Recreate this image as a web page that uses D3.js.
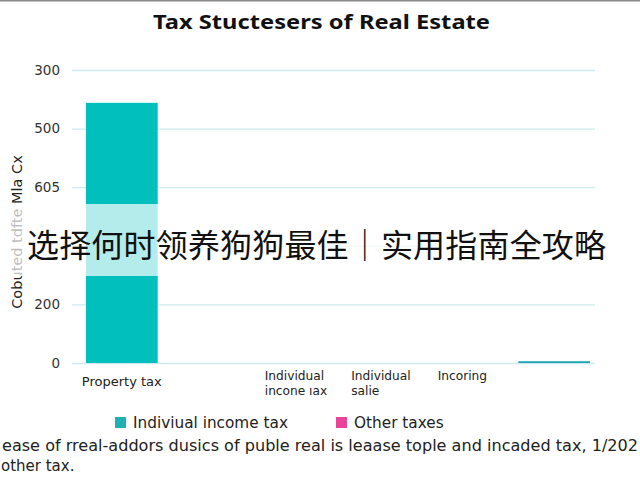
<!DOCTYPE html>
<html><head><meta charset="utf-8">
<script src="https://cdn.jsdelivr.net/npm/d3@7"></script>
<style>html,body{margin:0;padding:0;background:#fff;overflow:hidden}</style>
</head><body>
<svg id="c" width="640" height="480"></svg>
<script>
const categories = ["Property tax", "", "Individual\nincone ıax", "Individual\nsalie", "Incoring", ""];
const incomeTax = [444, 0, 0, 0, 0, 3];
const otherTaxes = [0, 0, 0, 0, 0, 0];
const tickValues = [0, 100, 200, 300, 400, 500];
const tickLabels = ["0", "200", "", "605", "500", "300"];
const seriesNames = ["Indiviual income tax", "Other taxes"];
const colors = ["#00bfbc", "#e8449a"];
const legendColors = ["#1fb0b4", "#e8449a"];

const svg = d3.select("#c");
const W = 640, H = 480;
svg.append("rect").attr("width", W).attr("height", H).attr("fill", "#fff");
svg.append("rect").attr("x", 0).attr("y", 0).attr("width", W).attr("height", 1.5).attr("fill", "#8a8a8a");

svg.append("text").attr("x", 153).attr("y", 29)
  .attr("font-family", "Noto Sans").attr("font-weight", "bold").attr("font-size", 19.5)
  .attr("fill", "#111").attr("textLength", 337).attr("lengthAdjust", "spacingAndGlyphs")
  .text("Tax Stuctesers of Real Estate");

const x = d3.scaleBand().domain(d3.range(categories.length)).range([79, 597]).paddingInner(0.17).paddingOuter(0.08);
const y = d3.scaleLinear().domain([0, 500]).range([363, 70]);

const yAxis = d3.axisLeft(y).tickValues(tickValues).tickFormat((d, i) => tickLabels[i]).tickSize(-(595 - 72)).tickPadding(12);
const gy = svg.append("g").attr("transform", "translate(72,0)").call(yAxis);
gy.select(".domain").remove();
gy.selectAll(".tick line").attr("stroke", "#cfeaee").attr("stroke-width", 1.3);
gy.selectAll(".tick text").attr("font-family", "DejaVu Sans").attr("font-size", 13.5).attr("fill", "#333");

svg.append("g").selectAll("rect").data(incomeTax).join("rect")
  .attr("x", (d, i) => x(i)).attr("width", x.bandwidth())
  .attr("y", d => y(d)).attr("height", d => y(0) - y(d))
  .attr("fill", (d, i) => i === categories.length - 1 ? "#1aa6b0" : colors[0]);

const xl = svg.append("g");
categories.forEach((c, i) => {
  if (!c) return;
  const lines = c.split("\n");
  const cx = x(i) + x.bandwidth() / 2;
  const y0 = (i === 0) ? 386 : 380;
  lines.forEach((l, k) => {
    xl.append("text").attr("text-anchor", i === 0 ? "middle" : "start")
      .attr("font-family", "DejaVu Sans").attr("font-size", i === 0 ? 13 : 12.2).attr("fill", "#222")
      .attr("x", i === 0 ? cx : cx - 30)
      .attr("y", y0 + k * 14.5).text(l);
  });
});

svg.append("text").attr("transform", "translate(22,232) rotate(-90)").attr("text-anchor", "middle")
  .attr("font-family", "DejaVu Sans").attr("font-size", 14.5).attr("fill", "#222")
  .text("Cobuted tdfte Mla Cx");

const lg = svg.append("g");
const lx = [115, 336];
seriesNames.forEach((s, i) => {
  lg.append("rect").attr("x", lx[i]).attr("y", 417).attr("width", 11).attr("height", 11).attr("fill", legendColors[i]);
  lg.append("text").attr("x", lx[i] + 18).attr("y", 428).attr("font-family", "DejaVu Sans")
    .attr("font-size", 15.3).attr("fill", "#222").text(s);
});

svg.append("text").attr("x", 2).attr("y", 451).attr("font-family", "DejaVu Sans").attr("font-size", 15).attr("fill", "#222")
  .attr("textLength", 636).attr("lengthAdjust", "spacingAndGlyphs")
  .text("ease of rreal-addors dusics of puble real is leaase tople and incaded tax, 1/202");
svg.append("text").attr("x", 1).attr("y", 471).attr("font-family", "DejaVu Sans").attr("font-size", 15).attr("fill", "#222")
  .text("other tax.");

svg.append("rect").attr("x", 0).attr("y", 204).attr("width", W).attr("height", 72).attr("fill", "#fff").attr("fill-opacity", 0.7);
svg.append("text").attr("x", 27).attr("y", 257).attr("font-family", "Noto Sans CJK SC").attr("font-size", 32)
  .attr("fill", "#111").attr("textLength", 579).text("选择何时领养狗狗最佳｜实用指南全攻略");
</script>
</body></html>
